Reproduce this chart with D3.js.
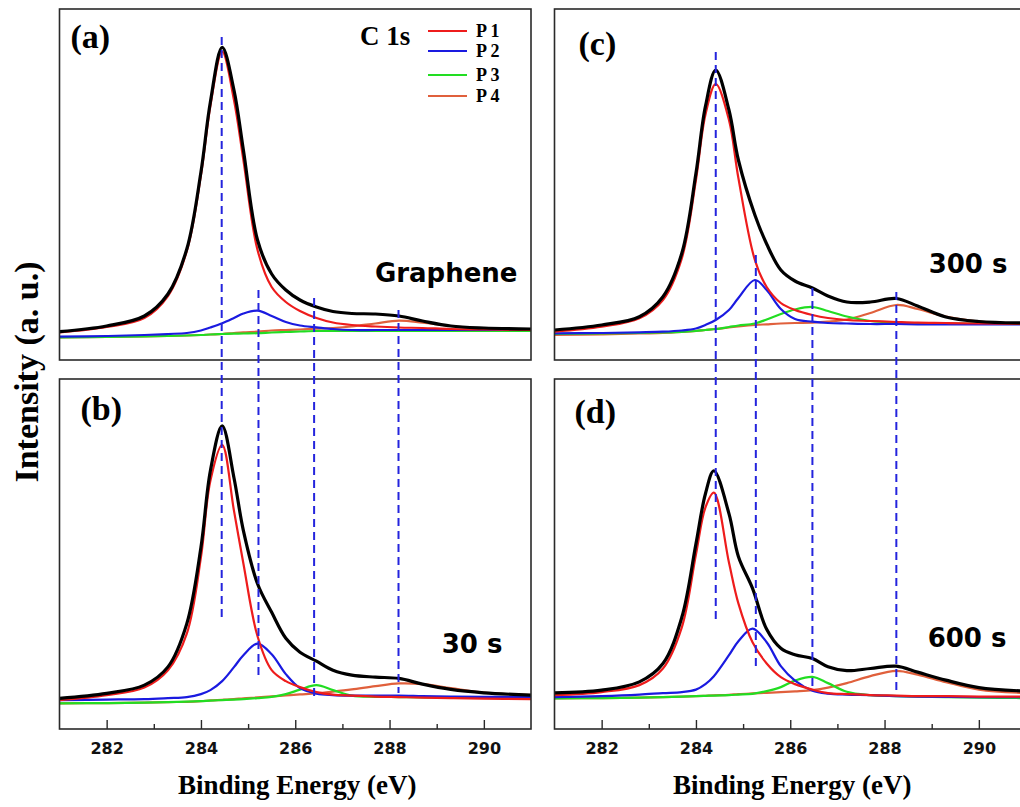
<!DOCTYPE html>
<html lang="en">
<head>
<meta charset="UTF-8">
<title>C 1s fits</title>
<style>
    body { margin: 0; background: #fff; }
    svg { display: block; }
    .serif { font-family: "Times New Roman", "Liberation Serif", serif; font-weight: bold; }
    .sans { font-family: Verdana, "DejaVu Sans", sans-serif; font-weight: bold; }
</style>
</head>
<body>
<script src="https://d3js.org/d3.v7.min.js"></script>
<script>
    // Binding energy samples (eV) and intensities (a.u.)
    const energyA = [281, 282, 282.8, 283.3, 283.7, 284.0, 284.2, 284.45, 284.7, 284.9, 285.2, 285.5, 285.8, 286.1, 286.45, 286.8, 287.2, 287.7, 288.2, 288.7, 289.3, 290, 291];
    const totalA = [28.3, 34, 44, 66, 111, 188, 258, 312.7, 270, 210, 120, 86, 70, 60, 53, 48.5, 46.5, 46, 44, 39, 34, 32, 31];
    const p1A = [27.5, 33, 42, 64, 109, 185, 254, 308.3, 260, 200, 110, 73, 58, 49, 42, 37.5, 35, 33.5, 32.5, 32, 31, 30.5, 30];
    const p2A = [23.3, 24, 25, 26, 27, 29.5, 32.5, 36.7, 42, 46.5, 49.3, 44, 38, 34.5, 32.7, 31, 30, 30, 30, 30, 30, 30, 30];
    const p3A = [22.7, 23, 23.5, 24, 24.5, 25, 25.5, 26, 26.3, 26.5, 26.8, 27.5, 28, 28.5, 29, 29, 29, 29, 29, 29, 29, 29, 29];
    const p4A = [22.7, 23, 23.5, 24, 24.5, 25, 25.5, 26, 27, 27.7, 28.3, 29.5, 30, 30.5, 31.3, 32, 33.5, 36.5, 39.3, 37.3, 34, 31.5, 30];

    const energyB = [281, 282, 282.8, 283.3, 283.7, 284.0, 284.2, 284.45, 284.7, 284.9, 285.2, 285.5, 285.8, 286.1, 286.45, 286.8, 287.2, 287.7, 288.2, 288.7, 289.3, 290, 291];
    const totalB = [30.7, 35.7, 44, 62.3, 105.7, 182.3, 259, 304, 252, 199, 145.7, 117, 91, 77, 68, 59, 54, 52, 50.7, 45, 39.7, 36.3, 34];
    const p1B = [29, 34, 41.7, 59, 95.7, 172.3, 249, 285, 219, 166, 93, 59, 48, 42, 37, 34.5, 33.5, 32.5, 32, 31.5, 31, 30.5, 30];
    const p2B = [29, 29.5, 30, 31, 32, 35, 39, 48, 62, 74, 85.7, 75, 55, 41, 35.5, 34, 33.5, 33.5, 33.5, 33, 32.5, 32.3, 32];
    const p3B = [25.7, 26, 26.5, 27, 27.5, 28, 28.5, 29, 29.5, 30, 31, 32.3, 35, 39.5, 44, 39, 33.5, 32.3, 32, 31.7, 31.5, 31.5, 31.5];
    const p4B = [25.7, 26, 26.5, 27, 27.3, 28, 28.7, 29.3, 30, 30.8, 31.7, 32.7, 33.7, 34.7, 35.8, 37.5, 39.7, 43, 45.7, 45, 41, 36.5, 34];

    const energyC = [281, 282, 282.8, 283.3, 283.7, 284.0, 284.2, 284.42, 284.7, 284.9, 285.25, 285.5, 285.8, 286.1, 286.47, 286.8, 287.2, 287.7, 288.25, 288.7, 289.3, 290, 291];
    const totalC = [30, 35, 43.3, 63.3, 106.7, 186.7, 253.3, 290, 250, 200, 145, 116, 90, 79, 72, 64, 58, 58, 61.5, 54, 43, 38.5, 37];
    const p1C = [28.3, 33.3, 41.7, 60, 101.7, 180, 245, 276, 240, 182, 100, 73, 57, 50, 45, 42, 40, 39, 38, 37.3, 37, 36.5, 36];
    const p2C = [26.7, 27, 27.7, 28.3, 29.5, 31.5, 35, 40, 50, 62, 80, 70, 51, 41, 38.3, 37, 36.5, 36, 36, 35.7, 35.5, 35.5, 35.5];
    const p3C = [26, 26.5, 27, 27.5, 28, 29, 30, 31, 33, 34.5, 36.5, 40.5, 46, 50.5, 53, 49, 43.5, 39, 37.3, 36.7, 36.5, 36.3, 36];
    const p4C = [25, 25.5, 26.5, 27, 28, 29, 30, 31, 32.5, 33.5, 35, 35.7, 36.5, 37, 37.3, 38.3, 40.5, 47, 55, 51, 43.5, 38.5, 36.7];

    const energyD = [281, 282, 282.8, 283.3, 283.7, 284.0, 284.2, 284.38, 284.7, 284.9, 285.2, 285.5, 285.8, 286.1, 286.47, 286.8, 287.2, 287.7, 288.25, 288.7, 289.3, 290, 291];
    const totalD = [36.3, 39, 47.3, 65.7, 112, 185.7, 235.7, 259, 216, 173, 141, 100, 81, 74.5, 70.7, 62.5, 58.5, 60.7, 63, 57, 49, 41.5, 38];
    const p1D = [34, 37, 44, 60.7, 102, 175, 222, 237, 167, 126, 87, 65.7, 52, 45, 39.5, 36, 35, 34, 33.5, 33, 33, 32.5, 32.5];
    const p2D = [32, 33, 34.5, 36, 37, 39.5, 45, 53, 74, 88, 100.7, 87, 63, 48.5, 38.5, 35.5, 34.5, 34, 33, 32.5, 32.3, 32, 32];
    const p3D = [30.7, 31, 31.5, 32, 32.5, 33, 33.3, 33.5, 34, 34.5, 35.3, 38, 42, 48.5, 52.3, 46, 37.3, 34, 33, 32.5, 32, 31.5, 31];
    const p4D = [30.7, 31, 31.5, 32, 32.5, 33, 33.3, 33.7, 34.3, 35, 35.7, 36.3, 37, 37.8, 39, 41.5, 46, 53, 58.3, 54.5, 47, 39.5, 36];

    // Peak guides: energy, intensity where they start in the top panel, where they stop in the bottom one
    const guideLeft = [284.44, 285.22, 286.40, 288.19];
    const guideLeftTop = [323, 70, 62, 50];
    const guideLeftEnd = [109, 52, 32, 36];
    const guideRight = [284.42, 285.27, 286.47, 288.25];
    const guideRightTop = [308, 105, 72, 68];
    const guideRightEnd = [109, 61, 41, 39];

    const panelLabels = ["(a)", "(b)", "(c)", "(d)"];
    const sampleLabels = ["Graphene", "30 s", "300 s", "600 s"];
    const legendNames = ["P 1", "P 2", "P 3", "P 4"];
    const majorTicks = [282, 284, 286, 288, 290];
    const minorTicks = [283, 285, 287, 289];

    const width = 1020,
        height = 807,
        colX = [[59.5, 531], [554.5, 1026]],
        rowY = [[9, 360], [379, 729]],
        peakColors = ["#ee1c1c", "#1a1ae0", "#22dd22", "#e0603c"],
        guideColor = "#2424dd";

    // label placement inside each panel (offsets from panel's left/top)
    const panels = [
        {col: 0, row: 0, energy: energyA, total: totalA, peaks: [p1A, p2A, p3A, p4A], lab: [11, 39], samp: [458, 273]},
        {col: 0, row: 1, energy: energyB, total: totalB, peaks: [p1B, p2B, p3B, p4B], lab: [21, 41], samp: [443, 274]},
        {col: 1, row: 0, energy: energyC, total: totalC, peaks: [p1C, p2C, p3C, p4C], lab: [24, 46], samp: [453, 264]},
        {col: 1, row: 1, energy: energyD, total: totalD, peaks: [p1D, p2D, p3D, p4D], lab: [20, 44], samp: [452, 268]}
    ];

    const svg = d3.select("body").append("svg")
        .attr("width", width)
        .attr("height", height);

    svg.append("rect").attr("width", width).attr("height", height).attr("fill", "#fff");

    const xScales = colX.map(r => d3.scaleLinear().domain([281, 291]).range(r));
    const yScales = rowY.map(r => d3.scaleLinear().domain([0, 351]).range([r[1], r[0]]));

    panels.forEach(function(p, i) {
        const x = xScales[p.col], y = yScales[p.row];
        const g = svg.append("g");

        const line = function(values) {
            return d3.line()
                .x((d, k) => x(p.energy[k]))
                .y(d => y(d))
                .curve(d3.curveCatmullRom.alpha(0.5))(values);
        };

        // components first, envelope on top
        for (let k = 3; k >= 0; k--) {
            g.append("path")
                .attr("d", line(p.peaks[k]))
                .attr("fill", "none")
                .attr("stroke", peakColors[k])
                .attr("stroke-width", 2.2);
        }
        g.append("path")
            .attr("d", line(p.total))
            .attr("fill", "none")
            .attr("stroke", "#000")
            .attr("stroke-width", 3.2);

        g.append("rect")
            .attr("x", x(281))
            .attr("y", y(351))
            .attr("width", x(291) - x(281))
            .attr("height", y(0) - y(351))
            .attr("fill", "none")
            .attr("stroke", "#2a2a2a")
            .attr("stroke-width", 1.6);

        g.append("text")
            .attr("class", "serif")
            .attr("x", x(281) + p.lab[0])
            .attr("y", y(351) + p.lab[1])
            .style("font-size", "34px")
            .text(panelLabels[i]);

        g.append("text")
            .attr("class", "sans")
            .attr("text-anchor", "end")
            .attr("x", x(281) + p.samp[0])
            .attr("y", y(351) + p.samp[1])
            .style("font-size", "26px")
            .text(sampleLabels[i]);

        if (p.row === 1) {
            const axis = g.append("g")
                .attr("transform", `translate(0,${y(0)})`)
                .call(d3.axisBottom(x).tickValues(majorTicks).tickSize(-9).tickPadding(14).tickFormat(d3.format("d")));
            axis.select(".domain").remove();
            axis.selectAll("line").attr("stroke", "#2a2a2a").attr("stroke-width", 1.4);
            axis.selectAll("text")
                .attr("class", "sans")
                .style("font-size", "16px")
                .attr("fill", "#111");

            const minor = g.append("g")
                .attr("transform", `translate(0,${y(0)})`)
                .call(d3.axisBottom(x).tickValues(minorTicks).tickSize(-5).tickFormat(""));
            minor.select(".domain").remove();
            minor.selectAll("line").attr("stroke", "#2a2a2a").attr("stroke-width", 1.4);

            g.append("text")
                .attr("class", "serif")
                .attr("text-anchor", "middle")
                .attr("x", (x(281) + x(291)) / 2 + 2)
                .attr("y", 794)
                .style("font-size", "27px")
                .text("Binding Energy (eV)");
        }
    });

    // dashed guides running through both panels of a column
    function drawGuides(x, energies, tops, ends) {
        svg.append("g").selectAll("line")
            .data(energies)
            .join("line")
            .attr("x1", d => x(d))
            .attr("x2", d => x(d))
            .attr("y1", (d, k) => yScales[0](tops[k]))
            .attr("y2", (d, k) => yScales[1](ends[k]))
            .attr("stroke", guideColor)
            .attr("stroke-width", 2)
            .attr("stroke-dasharray", "8,5");
    }
    drawGuides(xScales[0], guideLeft, guideLeftTop, guideLeftEnd);
    drawGuides(xScales[1], guideRight, guideRightTop, guideRightEnd);

    // legend in panel (a)
    svg.append("text")
        .attr("class", "serif")
        .attr("x", 360)
        .attr("y", 45)
        .style("font-size", "27px")
        .text("C 1s");

    const legendY = [31, 51, 75, 96];
    const legend = svg.append("g").selectAll("g")
        .data(legendNames)
        .join("g")
        .attr("transform", (d, k) => `translate(428,${legendY[k]})`);
    legend.append("line")
        .attr("x2", 39)
        .attr("stroke", (d, k) => peakColors[k])
        .attr("stroke-width", 2.2);
    legend.append("text")
        .attr("class", "serif")
        .attr("x", 48)
        .attr("dy", "0.33em")
        .style("font-size", "18px")
        .text(d => d);

    svg.append("text")
        .attr("class", "serif")
        .attr("text-anchor", "middle")
        .attr("transform", "translate(38,372) rotate(-90)")
        .style("font-size", "34px")
        .text("Intensity (a. u.)");
</script>
</body>
</html>
